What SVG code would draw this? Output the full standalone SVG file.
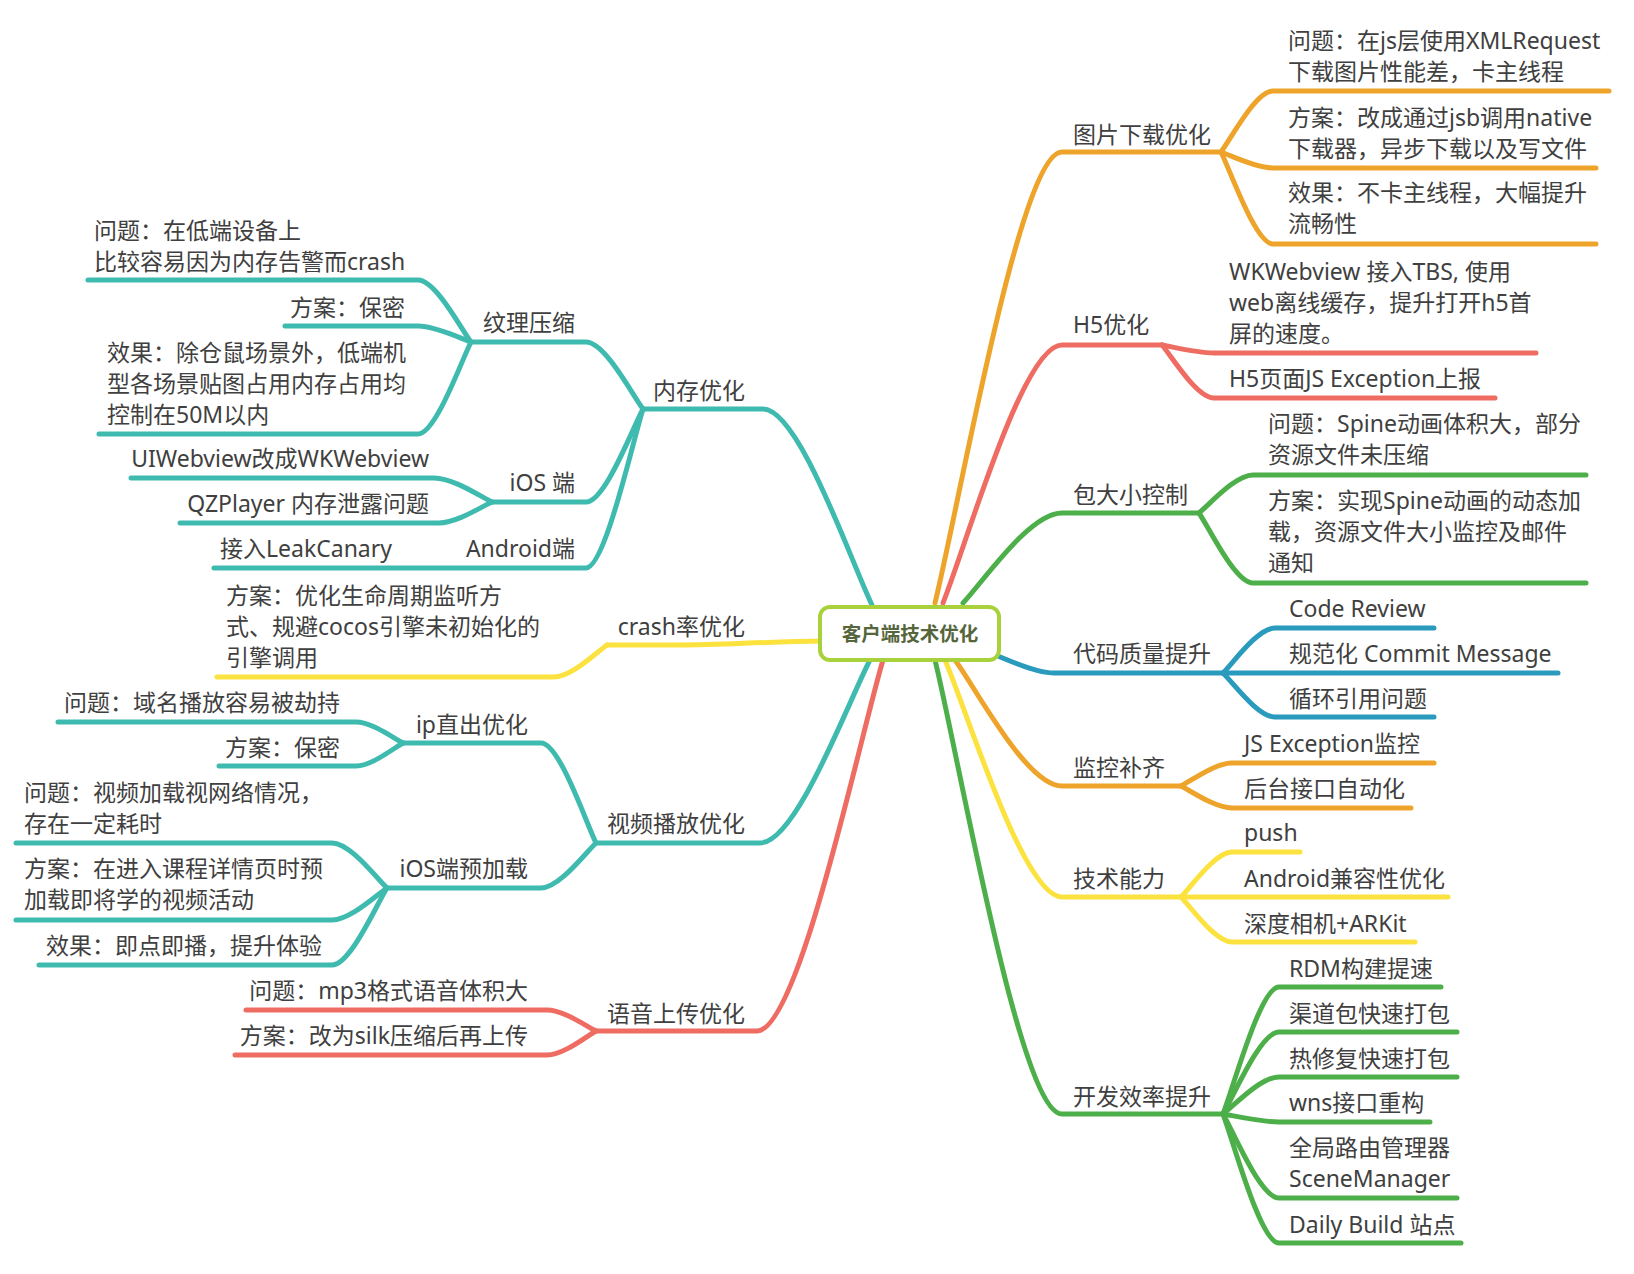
<svg xmlns="http://www.w3.org/2000/svg" width="1634" height="1274" viewBox="0 0 1634 1274">
<style>
.t{font-family:"Noto Sans","Noto Sans CJK SC",sans-serif;font-size:23px;fill:#404040}
.e{text-anchor:end}
.c path{fill:none;stroke-width:5;stroke-linecap:round;stroke-linejoin:round}
.teal{stroke:#3EBAAF}.orange{stroke:#EEA42A}.red{stroke:#EE6C62}.green{stroke:#4DAF4A}.blue{stroke:#2A9ABD}.yellow{stroke:#FCE23F}
.root rect{fill:#fff;stroke:#A9D13C;stroke-width:4}
.root text{font-family:"Noto Sans CJK SC",sans-serif;font-size:19.5px;font-weight:bold;fill:#55663C;text-anchor:middle}
</style>
<rect width="1634" height="1274" fill="#fff"/>
<g id="connectors" class="c">
<path class="orange" d="M935 603 C960.4 499.3 1020.1 152 1062 152 L1221 152"/>
<path class="red" d="M943 603 C966.8 543.7 1022.7 345 1062 345 L1162 345"/>
<path class="green" d="M963 603 C982.8 582.3 1029.3 513 1062 513 L1199 513"/>
<path class="blue" d="M995 655 C1006.8 659.1 1034.5 673 1054 673 L1223 673"/>
<path class="orange" d="M955 660 C976.4 689 1026.7 786 1062 786 L1181 786"/>
<path class="yellow" d="M945 660 C968.4 714.5 1023.4 897 1062 897 L1181 897"/>
<path class="green" d="M935 660 C960.4 764.4 1020.1 1114 1062 1114 L1223 1114"/>
<path class="orange" d="M1221 152 C1231.4 138 1255.8 91 1273 91 L1609 91"/>
<path class="orange" d="M1221 152 C1231.4 155.7 1255.8 168 1273 168 L1596 168"/>
<path class="orange" d="M1221 152 C1231.4 173.2 1255.8 244 1273 244 L1596 244"/>
<path class="red" d="M1162 345 C1172.4 346.8 1196.8 353 1214 353 L1536 353"/>
<path class="red" d="M1162 345 C1172.4 357.2 1196.8 398 1214 398 L1495 398"/>
<path class="green" d="M1199 513 C1209.8 504.3 1235.2 475 1253 475 L1586 475"/>
<path class="green" d="M1199 513 C1209.8 529.1 1235.2 583 1253 583 L1586 583"/>
<path class="blue" d="M1223 673 C1233.4 662.7 1257.8 628 1275 628 L1434 628"/>
<path class="blue" d="M1223 673 L1558 673"/>
<path class="blue" d="M1223 673 C1233.4 683.1 1257.8 717 1275 717 L1434 717"/>
<path class="orange" d="M1181 786 C1191.2 780.7 1215.2 763 1232 763 L1434 763"/>
<path class="orange" d="M1181 786 C1191.2 791.1 1215.2 808 1232 808 L1411 808"/>
<path class="yellow" d="M1181 897 C1191.2 886.7 1215.2 852 1232 852 L1300 852"/>
<path class="yellow" d="M1181 897 L1448 897"/>
<path class="yellow" d="M1181 897 C1191.2 907.4 1215.2 942 1232 942 L1415 942"/>
<path class="green" d="M1223 1114 C1234.2 1084.8 1260.5 987 1279 987 L1441 987"/>
<path class="green" d="M1223 1114 C1234.2 1095.1 1260.5 1032 1279 1032 L1457 1032"/>
<path class="green" d="M1223 1114 C1234.2 1105.5 1260.5 1077 1279 1077 L1457 1077"/>
<path class="green" d="M1223 1114 C1234.2 1115.8 1260.5 1122 1279 1122 L1430 1122"/>
<path class="green" d="M1223 1114 C1234.2 1133.3 1260.5 1198 1279 1198 L1457 1198"/>
<path class="green" d="M1223 1114 C1234.2 1143.7 1260.5 1243 1279 1243 L1461 1243"/>
<path class="teal" d="M872 605 C850.2 559.9 799 409 763 409 L643 409"/>
<path class="yellow" d="M825 641 C760 642 720 645 680 645 L607 645"/>
<path class="teal" d="M870 660 C848 702.1 796.3 843 760 843 L596 843"/>
<path class="red" d="M883 660 C857.8 745.3 798.6 1031 757 1031 L596 1031"/>
<path class="teal" d="M643 409 C631.6 393.6 604.8 342 586 342 L471 342"/>
<path class="teal" d="M643 409 C631.6 430.4 604.8 502 586 502 L492 502"/>
<path class="teal" d="M643 409 C631.6 445.6 604.8 568 586 568 L214 568"/>
<path class="teal" d="M471 342 C460.4 327.7 435.5 280 418 280 L88 280"/>
<path class="teal" d="M471 342 C460.4 338.3 435.5 326 418 326 L285 326"/>
<path class="teal" d="M471 342 C460.4 363.2 435.5 434 418 434 L99 434"/>
<path class="teal" d="M492 502 C480.4 496.5 453.1 478 434 478 L131 478"/>
<path class="teal" d="M492 502 C481.4 506.8 456.5 523 439 523 L180 523"/>
<path class="yellow" d="M607 645 C596.4 652.4 571.5 677 554 677 L217 677"/>
<path class="teal" d="M596 843 C585 820 559.2 743 541 743 L403 743"/>
<path class="teal" d="M596 843 C585 853.4 559.2 888 541 888 L387 888"/>
<path class="teal" d="M403 743 C393.6 738.2 371.5 722 356 722 L58 722"/>
<path class="teal" d="M403 743 C393.6 748.3 371.5 766 356 766 L219 766"/>
<path class="teal" d="M387 888 C376 877.7 350.2 843 332 843 L16 843"/>
<path class="teal" d="M387 888 C376 895.4 350.2 920 332 920 L16 920"/>
<path class="teal" d="M387 888 C376 905.7 350.2 965 332 965 L39 965"/>
<path class="red" d="M596 1031 C586.2 1026.2 563.2 1010 547 1010 L246 1010"/>
<path class="red" d="M596 1031 C586.2 1036.5 563.2 1055 547 1055 L235 1055"/>
</g>
<g id="root" class="root"><rect x="820" y="607" width="179" height="53" rx="10"/><text x="910" y="641">客户端技术优化</text></g>
<g id="n-img" class="t"><text x="1073" y="143">图片下载优化</text></g>
<g id="n-img-q" class="t"><text x="1288" y="49">问题：在js层使用XMLRequest</text><text x="1288" y="80">下载图片性能差，卡主线程</text></g>
<g id="n-img-s" class="t"><text x="1288" y="126">方案：改成通过jsb调用native</text><text x="1288" y="157">下载器，异步下载以及写文件</text></g>
<g id="n-img-r" class="t"><text x="1288" y="201">效果：不卡主线程，大幅提升</text><text x="1288" y="232">流畅性</text></g>
<g id="n-h5" class="t"><text x="1073" y="333">H5优化</text></g>
<g id="n-h5-1" class="t"><text x="1229" y="280">WKWebview 接入TBS, 使用</text><text x="1229" y="311">web离线缓存，提升打开h5首</text><text x="1229" y="342">屏的速度。</text></g>
<g id="n-h5-2" class="t"><text x="1229" y="387">H5页面JS Exception上报</text></g>
<g id="n-pkg" class="t"><text x="1073" y="503">包大小控制</text></g>
<g id="n-pkg-q" class="t"><text x="1268" y="432">问题：Spine动画体积大，部分</text><text x="1268" y="463">资源文件未压缩</text></g>
<g id="n-pkg-s" class="t"><text x="1268" y="509">方案：实现Spine动画的动态加</text><text x="1268" y="540">载，资源文件大小监控及邮件</text><text x="1268" y="571">通知</text></g>
<g id="n-code" class="t"><text x="1073" y="662">代码质量提升</text></g>
<g id="n-code-1" class="t"><text x="1289" y="617">Code Review</text></g>
<g id="n-code-2" class="t"><text x="1289" y="662">规范化 Commit Message</text></g>
<g id="n-code-3" class="t"><text x="1289" y="707">循环引用问题</text></g>
<g id="n-mon" class="t"><text x="1073" y="776">监控补齐</text></g>
<g id="n-mon-1" class="t"><text x="1244" y="752">JS Exception监控</text></g>
<g id="n-mon-2" class="t"><text x="1244" y="797">后台接口自动化</text></g>
<g id="n-tech" class="t"><text x="1073" y="887">技术能力</text></g>
<g id="n-tech-1" class="t"><text x="1244" y="841">push</text></g>
<g id="n-tech-2" class="t"><text x="1244" y="887">Android兼容性优化</text></g>
<g id="n-tech-3" class="t"><text x="1244" y="932">深度相机+ARKit</text></g>
<g id="n-dev" class="t"><text x="1073" y="1105">开发效率提升</text></g>
<g id="n-dev-1" class="t"><text x="1289" y="977">RDM构建提速</text></g>
<g id="n-dev-2" class="t"><text x="1289" y="1022">渠道包快速打包</text></g>
<g id="n-dev-3" class="t"><text x="1289" y="1067">热修复快速打包</text></g>
<g id="n-dev-4" class="t"><text x="1289" y="1111">wns接口重构</text></g>
<g id="n-dev-5" class="t"><text x="1289" y="1156">全局路由管理器</text><text x="1289" y="1187">SceneManager</text></g>
<g id="n-dev-6" class="t"><text x="1289" y="1233">Daily Build 站点</text></g>
<g id="n-mem" class="t"><text class="e" x="745" y="399">内存优化</text></g>
<g id="n-tex" class="t"><text class="e" x="575" y="331">纹理压缩</text></g>
<g id="n-tex-q" class="t"><text x="94" y="239">问题：在低端设备上</text><text x="94" y="270">比较容易因为内存告警而crash</text></g>
<g id="n-tex-s" class="t"><text class="e" x="405" y="316">方案：保密</text></g>
<g id="n-tex-r" class="t"><text x="107" y="361">效果：除仓鼠场景外，低端机</text><text x="107" y="392">型各场景贴图占用内存占用均</text><text x="107" y="423">控制在50M以内</text></g>
<g id="n-ios" class="t"><text class="e" x="575" y="491">iOS 端</text></g>
<g id="n-ios-1" class="t"><text class="e" x="429" y="467">UIWebview改成WKWebview</text></g>
<g id="n-ios-2" class="t"><text class="e" x="429" y="512">QZPlayer 内存泄露问题</text></g>
<g id="n-and" class="t"><text class="e" x="575" y="557">Android端</text></g>
<g id="n-and-1" class="t"><text class="e" x="392" y="557">接入LeakCanary</text></g>
<g id="n-crash" class="t"><text class="e" x="745" y="635">crash率优化</text></g>
<g id="n-crash-s" class="t"><text x="226" y="604">方案：优化生命周期监听方</text><text x="226" y="635">式、规避cocos引擎未初始化的</text><text x="226" y="666">引擎调用</text></g>
<g id="n-video" class="t"><text class="e" x="745" y="832">视频播放优化</text></g>
<g id="n-ip" class="t"><text class="e" x="528" y="733">ip直出优化</text></g>
<g id="n-ip-q" class="t"><text class="e" x="340" y="711">问题：域名播放容易被劫持</text></g>
<g id="n-ip-s" class="t"><text class="e" x="340" y="756">方案：保密</text></g>
<g id="n-pre" class="t"><text class="e" x="528" y="877">iOS端预加载</text></g>
<g id="n-pre-q" class="t"><text x="24" y="801">问题：视频加载视网络情况，</text><text x="24" y="832">存在一定耗时</text></g>
<g id="n-pre-s" class="t"><text x="24" y="877">方案：在进入课程详情页时预</text><text x="24" y="908">加载即将学的视频活动</text></g>
<g id="n-pre-r" class="t"><text class="e" x="322" y="954">效果：即点即播，提升体验</text></g>
<g id="n-voice" class="t"><text class="e" x="745" y="1022">语音上传优化</text></g>
<g id="n-voice-q" class="t"><text class="e" x="528" y="999">问题：mp3格式语音体积大</text></g>
<g id="n-voice-s" class="t"><text class="e" x="528" y="1044">方案：改为silk压缩后再上传</text></g>
</svg>
